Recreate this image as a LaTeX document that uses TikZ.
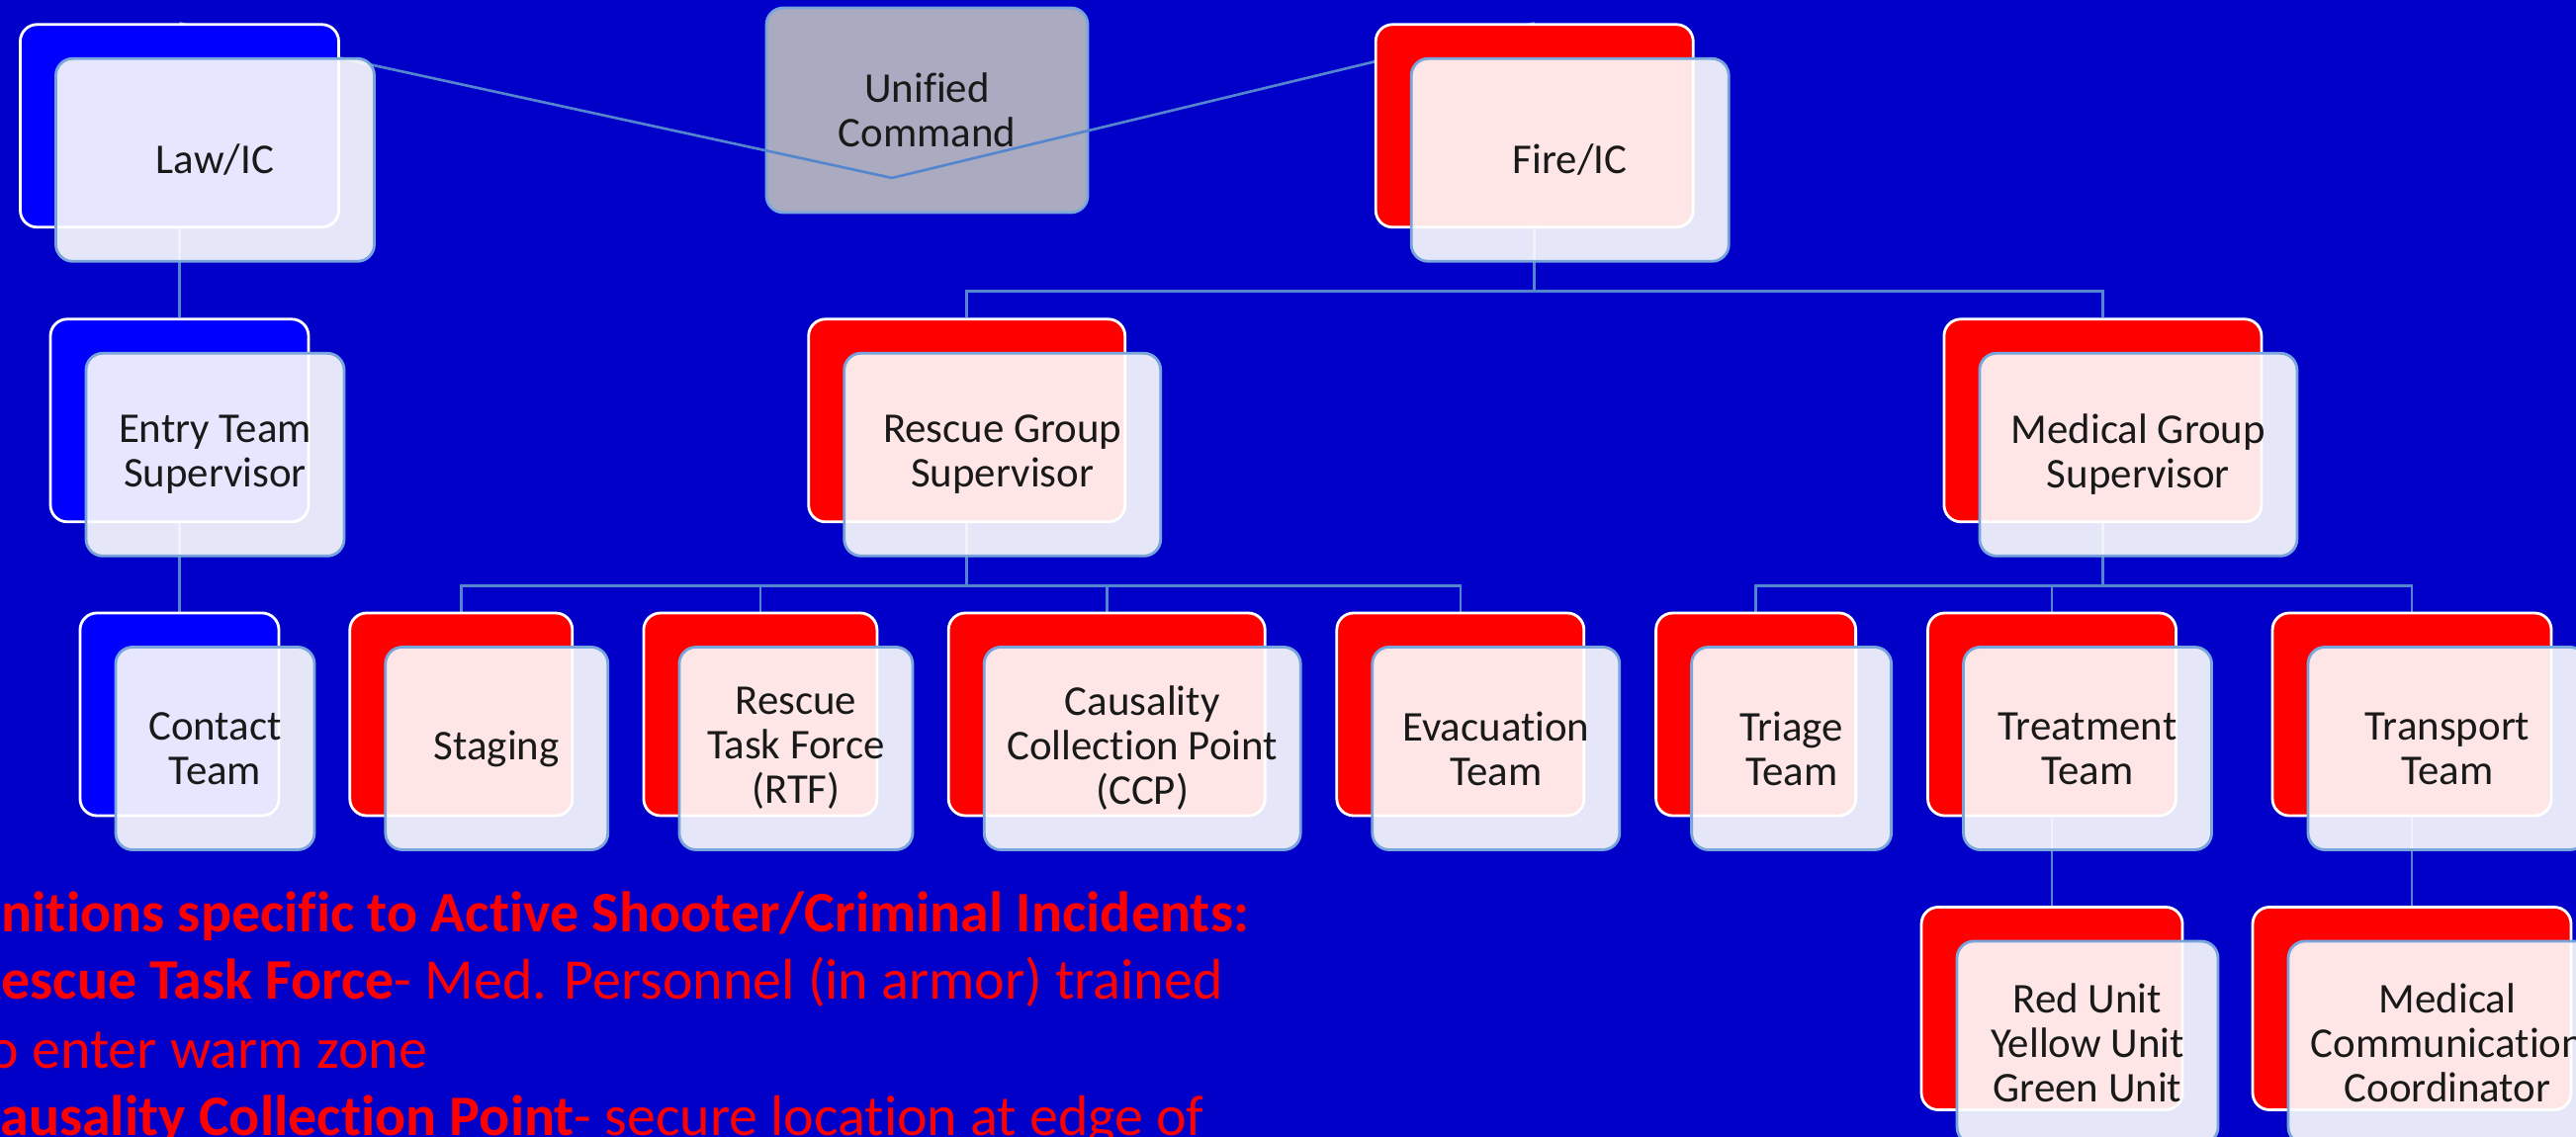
\documentclass[tikz,border=0pt]{standalone}
\usepackage{fontspec}
\setmainfont{Carlito}[Ligatures=NoCommon]
\definecolor{slideblue}{RGB}{0,0,200}
\definecolor{lawblue}{RGB}{0,0,255}
\definecolor{firered}{RGB}{255,0,0}
\definecolor{linkblue}{RGB}{84,134,208}
\definecolor{edgeblue}{RGB}{120,165,220}
\definecolor{ucgray}{RGB}{170,170,192}
\pgfdeclarelayer{bg}
\pgfdeclarelayer{links}
\pgfsetlayers{bg,links,main}
\begin{document}
\begin{tikzpicture}[
  backbox/.style={draw=white, line width=0.8pt, rounded corners=0.17cm, minimum height=2.05cm, minimum width=#1, inner sep=0pt},
  lawback/.style={backbox=#1, fill=lawblue},
  fireback/.style={backbox=#1, fill=firered},
  frontbox/.style={draw=edgeblue, line width=0.8pt, fill=white, fill opacity=0.9, text opacity=1, rounded corners=0.17cm, minimum height=2.05cm, minimum width=#1, inner sep=0pt, align=center, text=black!90, font=\fontsize{12.2}{12.8}\selectfont},
  link/.style={draw=linkblue, line width=0.75pt},
  note/.style={anchor=base west, inner sep=0pt, text=firered, font=\fontsize{16.5}{20}\selectfont}]
\useasboundingbox (0,0) rectangle (26.05,-11.5);
\clip (0,0) rectangle (26.05,-11.5);
\begin{pgfonlayer}{bg}
\fill[slideblue] (0,0) rectangle (26.05,-11.5);
\node[draw=edgeblue, line width=0.8pt, fill=ucgray, rounded corners=0.17cm, minimum width=3.25cm, minimum height=2.07cm, align=center, text=black!90, font=\fontsize{12.2}{12.8}\selectfont] (uc) at (9.375,-1.115) {Unified\\Command};
\end{pgfonlayer}
% command level
\node[lawback=3.22cm] (lawB) at (1.815,-1.273) {};
\node[frontbox=3.22cm] (law) at (2.175,-1.618) {Law/IC};
\node[fireback=3.21cm] (fireB) at (15.517,-1.273) {};
\node[frontbox=3.21cm] (fire) at (15.877,-1.618) {Fire/IC};
\coordinate (ucjoin) at (9.02,-1.80);
% supervisors
\node[lawback=2.61cm] (entryB) at (1.815,-4.253) {};
\node[frontbox=2.61cm] (entry) at (2.175,-4.598) {Entry Team\\Supervisor};
\node[fireback=3.2cm] (rescueB) at (9.777,-4.253) {};
\node[frontbox=3.2cm] (rescue) at (10.137,-4.598) {Rescue Group\\Supervisor};
\node[fireback=3.21cm] (medicalB) at (21.264,-4.253) {};
\node[frontbox=3.21cm] (medical) at (21.624,-4.598) {Medical Group\\Supervisor};
% teams
\node[lawback=2.01cm] (contactB) at (1.815,-7.225) {};
\node[frontbox=2.01cm] (contact) at (2.175,-7.57) {Contact\\Team};
\node[fireback=2.25cm] (stagingB) at (4.663,-7.225) {};
\node[frontbox=2.25cm] (staging) at (5.023,-7.57) {Staging};
\node[fireback=2.36cm] (rtfB) at (7.689,-7.225) {};
\node[frontbox=2.36cm] (rtf) at (8.049,-7.57) {Rescue\\Task Force\\(RTF)};
\node[fireback=3.2cm] (ccpB) at (11.192,-7.225) {};
\node[frontbox=3.2cm] (ccp) at (11.552,-7.57) {Causality\\Collection Point\\(CCP)};
\node[fireback=2.5cm] (evacB) at (14.768,-7.225) {};
\node[frontbox=2.5cm] (evac) at (15.128,-7.57) {Evacuation\\Team};
\node[fireback=2.02cm] (triageB) at (17.756,-7.225) {};
\node[frontbox=2.02cm] (triage) at (18.116,-7.57) {Triage\\Team};
\node[fireback=2.51cm] (treatB) at (20.75,-7.225) {};
\node[frontbox=2.51cm] (treat) at (21.11,-7.57) {Treatment\\Team};
\node[fireback=2.82cm] (transB) at (24.39,-7.225) {};
\node[frontbox=2.82cm] (trans) at (24.75,-7.57) {Transport\\Team};
% units
\node[fireback=2.64cm] (redB) at (20.75,-10.2) {};
\node[frontbox=2.64cm] (red) at (21.11,-10.545) {Red Unit\\Yellow Unit\\Green Unit};
\node[fireback=3.22cm] (mccB) at (24.39,-10.2) {};
\node[frontbox=3.22cm] (mcc) at (24.75,-10.545) {Medical\\Communication\\Coordinator};
\begin{pgfonlayer}{links}
\draw[link] (lawB.north) -- (ucjoin) -- (fireB.north);
\draw[link] (lawB.south) -- (entryB.north);
\draw[link] (entryB.south) -- (contactB.north);
\draw[link] (fireB.south) -- ++(0,-0.635) -| (rescueB.north);
\draw[link] (fireB.south) ++(0,-0.635) -| (medicalB.north);
\foreach \team in {stagingB,rtfB,ccpB,evacB}
  \draw[link] (rescueB.south) -- ++(0,-0.632) -| (\team.north);
\foreach \team in {triageB,treatB,transB}
  \draw[link] (medicalB.south) -- ++(0,-0.632) -| (\team.north);
\draw[link] (treatB.south) -- (redB.north);
\draw[link] (transB.south) -- (mccB.north);
\end{pgfonlayer}
% definitions
\node[note] (defs) at (-0.97,-9.42) {\textbf{Definitions specific to Active Shooter/Criminal Incidents:}};
\node[note] (rtfdef) at (-0.31,-10.1) {\textbf{Rescue Task Force}- Med. Personnel (in armor) trained};
\node[note] (rtfdef2) at (-0.31,-10.8) {to enter warm zone};
\node[note] (ccpdef) at (-0.31,-11.48) {\textbf{Causality Collection Point}- secure location at edge of};
\end{tikzpicture}
\end{document}
